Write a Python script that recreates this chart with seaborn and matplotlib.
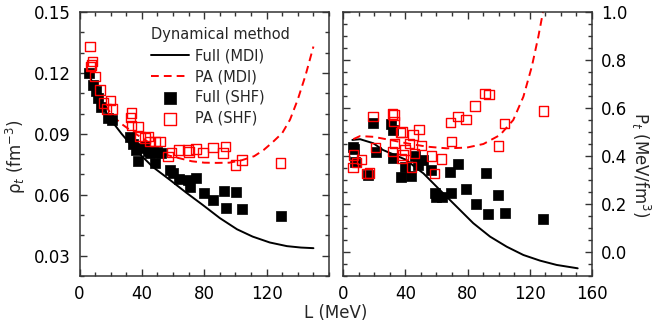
import matplotlib
matplotlib.use("Agg")
import matplotlib.pyplot as plt
from matplotlib.ticker import MultipleLocator, FormatStrFormatter
import seaborn as sns

sns.set_theme(style="ticks")
plt.rcParams["font.family"] = ["DejaVu Sans"]
plt.rcParams["mathtext.fontset"] = "dejavusans"

# ---------------- data: left panel (rho_t) ----------------
mdi_full_L_rho = [6, 10, 15, 21, 27, 32, 40, 47, 58, 68.5, 79, 90, 101, 111, 122, 133, 142, 150]
mdi_full_rho = [0.120, 0.111, 0.103, 0.096, 0.090, 0.0855, 0.079, 0.0737, 0.0673, 0.061, 0.055,
                0.0485, 0.043, 0.0394, 0.0365, 0.0347, 0.034, 0.0337]
mdi_pa_L_rho = [6, 10, 15, 20, 26, 34, 42, 50, 56, 64, 72, 80, 88, 96, 104, 112, 118, 124,
                130, 135, 140, 145, 150]
mdi_pa_rho = [0.121, 0.113, 0.106, 0.100, 0.0954, 0.091, 0.087, 0.083, 0.0796, 0.078, 0.0765,
              0.0758, 0.0757, 0.0758, 0.077, 0.079, 0.082, 0.086, 0.0904, 0.097, 0.107, 0.119, 0.133]

shf_full_L_rho = [6.3, 8.8, 10.5, 12, 14, 18.4, 20.6, 32.3, 34, 36, 37.6, 39.8, 42, 44, 45.1, 47,
                  50, 52, 48.3, 57.9, 60, 63.7, 69.6, 74.6, 70.7, 79.9, 85.6, 92.5, 100.6, 93.8,
                  104.2, 129.4]
shf_full_rho = [0.1198, 0.1141, 0.111, 0.1075, 0.103, 0.0977, 0.0969, 0.0886, 0.085, 0.082, 0.0768,
                0.0829, 0.084, 0.0815, 0.0805, 0.081, 0.081, 0.0805, 0.0756, 0.0722, 0.0706, 0.0678,
                0.0673, 0.0685, 0.0637, 0.0611, 0.0575, 0.0621, 0.0613, 0.0534, 0.0531, 0.0496]

shf_pa_L_rho = [6.7, 8.2, 7.8, 7.1, 9.9, 13.1, 15.3, 20, 17.4, 21.2, 33.4, 32.8, 33.4, 37.6, 38.7,
                44, 45, 48.3, 51.5, 42, 56.8, 59, 63.9, 69.6, 70.3, 74.6, 79.2, 85.6, 93.6, 92,
                100.2, 104.2, 129]
shf_pa_rho = [0.1329, 0.1255, 0.1239, 0.1231, 0.1182, 0.1116, 0.1051, 0.1064, 0.1023, 0.1023, 0.1002,
              0.098, 0.0941, 0.0936, 0.0886, 0.0886, 0.0862, 0.0862, 0.0862, 0.088, 0.0788, 0.0808,
              0.0821, 0.0821, 0.081, 0.0825, 0.0808, 0.0834, 0.0837, 0.0805, 0.0747, 0.0772, 0.0756]

# ---------------- data: right panel (P_t) ----------------
mdi_full_L_P = [6, 11, 19.5, 25.7, 33, 40.9, 46, 51.6, 62.3, 73, 83.7, 94.5, 105.2, 115.9, 126.6,
                137.3, 150.8]
mdi_full_P = [0.467, 0.47, 0.453, 0.425, 0.405, 0.383, 0.355, 0.328, 0.258, 0.189, 0.12, 0.064,
              0.022, -0.0125, -0.036, -0.054, -0.068]
mdi_pa_L_P = [6.6, 10.9, 19.5, 30.2, 40.9, 53.8, 66.6, 79.5, 90.2, 100.9, 109.4, 115.9, 121.3,
              125.5, 128.5]
mdi_pa_P = [0.47, 0.483, 0.48, 0.467, 0.453, 0.439, 0.432, 0.435, 0.45, 0.4875, 0.55, 0.647,
            0.772, 0.897, 1.0]

shf_full_L_P = [6.4, 7, 7.5, 16, 19.3, 21, 31, 32.1, 32.1, 37.5, 39.7, 43.9, 48.2, 51.4, 46, 56.8,
                58.9, 60, 63.8, 69.6, 68.6, 73.9, 78.9, 85.3, 91.9, 93.4, 99.8, 104.1, 128.3]
shf_full_P = [0.439, 0.43, 0.376, 0.321, 0.536, 0.418, 0.533, 0.508, 0.39, 0.311, 0.355, 0.317,
              0.363, 0.383, 0.40, 0.342, 0.247, 0.23, 0.23, 0.245, 0.335, 0.367, 0.261, 0.199,
              0.33, 0.157, 0.237, 0.161, 0.139]

shf_pa_L_P = [6.9, 11.8, 8.6, 6.4, 15.4, 17, 19.3, 21, 31.7, 32.8, 32.8, 33.2, 31.7, 36.8, 38,
              37.5, 38.6, 39.7, 42.9, 43.9, 45, 46.1, 48.8, 50.3, 56.8, 58.9, 63.2, 69.6, 69.2,
              73.9, 78.9, 84.8, 91.3, 93.8, 99.8, 103.7, 128.7]
shf_pa_P = [0.404, 0.386, 0.372, 0.351, 0.328, 0.33, 0.564, 0.435, 0.575, 0.571, 0.543, 0.453,
            0.418, 0.499, 0.50, 0.39, 0.404, 0.425, 0.453, 0.355, 0.4875, 0.411, 0.511, 0.443,
            0.4, 0.328, 0.388, 0.46, 0.539, 0.564, 0.553, 0.608, 0.661, 0.657, 0.442, 0.536, 0.587]

labels = ["Full (MDI)", "PA (MDI)", "Full (SHF)", "PA (SHF)"]

# ---------------- figure ----------------
fig = plt.figure(figsize=(6.54, 3.34), dpi=100)
ax1 = fig.add_axes([0.1216, 0.1737, 0.3815, 0.7903])
ax2 = fig.add_axes([0.5245, 0.1737, 0.3807, 0.7903])

LW = 1.4
MS = 46
FS_TICK = 12
FS_LAB = 12
FS_LEG = 10.5
dash = (4, 2.6)


def draw(ax, Lf, yf, Lp, yp, Ls, ys, Lsp, ysp):
    sns.lineplot(x=Lf, y=yf, ax=ax, color="black", lw=LW, sort=False, label=labels[0],
                 estimator=None)
    sns.lineplot(x=Lp, y=yp, ax=ax, color="red", lw=LW, sort=False, label=labels[1],
                 estimator=None, dashes=False, linestyle=(0, dash))
    sns.scatterplot(x=Ls, y=ys, ax=ax, marker="s", s=MS, color="black", edgecolor="black",
                    linewidth=0.5, label=labels[2], zorder=3)
    sns.scatterplot(x=Lsp, y=ysp, ax=ax, marker="s", s=MS, facecolors="none",
                    edgecolors="red", linewidth=1.0, label=labels[3], zorder=4)


draw(ax1, mdi_full_L_rho, mdi_full_rho, mdi_pa_L_rho, mdi_pa_rho,
     shf_full_L_rho, shf_full_rho, shf_pa_L_rho, shf_pa_rho)
draw(ax2, mdi_full_L_P, mdi_full_P, mdi_pa_L_P, mdi_pa_P,
     shf_full_L_P, shf_full_P, shf_pa_L_P, shf_pa_P)

for ax in (ax1, ax2):
    ax.set_xlim(0, 160)
    ax.xaxis.set_major_locator(MultipleLocator(40))
    ax.xaxis.set_minor_locator(MultipleLocator(10))
    ax.tick_params(which="both", direction="in", top=True, bottom=True, left=True, right=True,
                   labelsize=FS_TICK, colors="#333333", labelcolor="black", pad=6.5)
    ax.tick_params(which="major", length=5, width=1.0)
    ax.tick_params(which="minor", length=3, width=1.0)
    for sp in ax.spines.values():
        sp.set_color("#333333")
        sp.set_linewidth(1.1)
    ax.set_xlabel("")
    ax.set_ylabel("")

ax1.set_ylim(0.02, 0.15)
ax1.yaxis.set_major_locator(MultipleLocator(0.03))
ax1.yaxis.set_minor_locator(MultipleLocator(0.01))
ax1.yaxis.set_major_formatter(FormatStrFormatter("%.2f"))
ax1.set_xticks([0, 40, 80, 120])
ax1.set_xticklabels(["0", "40", "80", "120"])

ax2.set_ylim(-0.1, 1.0)
ax2.yaxis.set_major_locator(MultipleLocator(0.2))
ax2.yaxis.set_minor_locator(MultipleLocator(0.05))
ax2.yaxis.set_major_formatter(FormatStrFormatter("%.1f"))
ax2.tick_params(which="both", labelleft=False, labelright=True)

ax1.set_ylabel(r"ρ$_t$ (fm$^{-3}$)", fontsize=FS_LAB, va="center")
ax1.yaxis.set_label_coords(-0.255, 0.45)
ax2.yaxis.set_label_position("right")
ax2.set_ylabel(r"P$_t$ (MeV/fm$^3$)", fontsize=FS_LAB, rotation=270, va="center")
ax2.yaxis.set_label_coords(1.197, 0.42)
fig.text(0.514, 0.062, "L (MeV)", ha="center", va="center", fontsize=FS_LAB)

# legend
h, l = ax1.get_legend_handles_labels()
if ax2.get_legend() is not None:
    ax2.get_legend().remove()
leg = ax1.legend(h, l, loc="upper left", bbox_to_anchor=(0.252, 0.975), frameon=False,
                 title="Dynamical method", title_fontsize=FS_LEG, fontsize=FS_LEG,
                 handlelength=2.6, handletextpad=0.4, labelspacing=0.4, markerscale=1.3,
                 alignment="left", borderaxespad=0.2)

fig.savefig("out.png", dpi=100)
